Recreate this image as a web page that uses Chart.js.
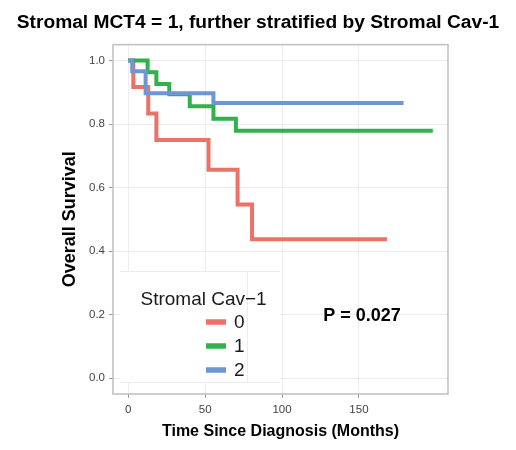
<!DOCTYPE html>
<html><head><meta charset="utf-8">
<script src="https://cdn.jsdelivr.net/npm/chart.js@4.4.1/dist/chart.umd.min.js"></script>
<style>html,body{margin:0;padding:0;background:#fff;}canvas{display:block;}</style>
</head><body>
<canvas id="c" width="516" height="450"></canvas>
<script>
// ---- data ----
const chartTitle = 'Stromal MCT4 = 1, further stratified by Stromal Cav-1';
const xTitle = 'Time Since Diagnosis (Months)';
const yTitle = 'Overall Survival';
const legendTitle = 'Stromal Cav\u22121';
const groupLabels = ['0', '1', '2'];
const groupColors = ['#EC7166', '#31B04B', '#6E95D4'];
const times0 = [0, 3.3, 13, 18.3, 52.2, 71.1, 80.5, 168.3];
const surv0  = [1, 0.917, 0.833, 0.75, 0.656, 0.547, 0.437, 0.437];
const times1 = [0, 12.6, 18.3, 26.7, 40, 55.4, 70, 198];
const surv1  = [1, 0.963, 0.926, 0.894, 0.856, 0.817, 0.779, 0.779];
const times2 = [0, 2.6, 11.3, 55.4, 179];
const surv2  = [1, 0.966, 0.897, 0.866, 0.866];
const xTicks = [0, 50, 100, 150];
const yTicks = [0, 0.2, 0.4, 0.6, 0.8, 1.0];
const pText = 'P = 0.027';
const pPos = [152, 0.195];

const FAM = "'Liberation Sans', Arial, Helvetica, sans-serif";
Chart.defaults.font.family = FAM;

function pts(t, s) { return t.map((v, i) => ({x: v, y: s[i]})); }
const series = [[times0, surv0], [times1, surv1], [times2, surv2]];

const datasets = series.map((s, i) => ({
  label: groupLabels[i],
  data: pts(s[0], s[1]),
  borderColor: groupColors[i],
  backgroundColor: groupColors[i],
  borderWidth: 4,
  stepped: 'before',
  pointRadius: 0,
  fill: false,
  order: 2 - i,
  borderCapStyle: 'butt',
  borderJoinStyle: 'miter'
}));

const overlay = {
  id: 'overlay',
  afterDatasetsDraw(chart) {
    const ctx = chart.ctx;
    const xs = chart.scales.x, ys = chart.scales.y;
    ctx.save();
    // legend box
    const lx0 = 120, lx1 = 280, ly0 = 271, ly1 = 383;
    ctx.fillStyle = '#ffffff';
    ctx.fillRect(lx0, ly0, lx1 - lx0, ly1 - ly0);
    ctx.strokeStyle = '#ececec';
    ctx.lineWidth = 1;
    ctx.beginPath();
    ctx.moveTo(lx0, ly0 + 0.5); ctx.lineTo(lx1, ly0 + 0.5);
    ctx.moveTo(lx0, ly1 - 0.5); ctx.lineTo(lx1, ly1 - 0.5);
    ctx.moveTo(247.5, ly0); ctx.lineTo(247.5, ly1);
    ctx.stroke();
    // legend title
    ctx.fillStyle = '#1a1a1a';
    ctx.font = "19px " + FAM;
    ctx.textAlign = 'left';
    ctx.textBaseline = 'alphabetic';
    ctx.fillText(legendTitle, 140.5, 305);
    // legend keys
    const keyY = [322, 346, 370];
    chart.data.datasets.forEach((d, i) => {
      ctx.strokeStyle = d.borderColor;
      ctx.lineWidth = 5.5;
      ctx.lineCap = 'butt';
      ctx.beginPath();
      ctx.moveTo(206, keyY[i]); ctx.lineTo(226, keyY[i]);
      ctx.stroke();
      ctx.fillStyle = '#1a1a1a';
      ctx.font = "19px " + FAM;
      ctx.textBaseline = 'middle';
      ctx.fillText(d.label, 234, keyY[i] + 1);
    });
    // p-value
    ctx.font = "bold 18px " + FAM;
    ctx.fillStyle = '#000';
    ctx.textAlign = 'center';
    ctx.textBaseline = 'middle';
    ctx.fillText(pText, xs.getPixelForValue(pPos[0]), ys.getPixelForValue(pPos[1]));
    ctx.restore();
  },
  afterDraw(chart) {
    const ctx = chart.ctx, a = chart.chartArea;
    ctx.save();
    ctx.strokeStyle = '#c2c2c2';
    ctx.lineWidth = 1.6;
    ctx.strokeRect(a.left, a.top, a.right - a.left, a.bottom - a.top);
    ctx.restore();
  }
};

new Chart(document.getElementById('c'), {
  type: 'line',
  data: { datasets },
  options: {
    responsive: false,
    animation: false,
    devicePixelRatio: 1,
    layout: { padding: 0 },
    plugins: {
      legend: { display: false },
      tooltip: { enabled: false },
      title: {
        display: true,
        text: chartTitle,
        color: '#000',
        font: { size: 19.2, weight: 'bold', family: FAM, lineHeight: 1.2 },
        padding: { top: 10.8, bottom: 10.8 }
      }
    },
    scales: {
      x: {
        type: 'linear',
        min: -9.9, max: 207.9,
        afterBuildTicks(s) { s.ticks = xTicks.map(v => ({value: v})); },
        afterFit(s) { s.height = 450 - 394; },
        ticks: { color: '#444', font: { size: 11.5, family: FAM }, padding: 5, maxRotation: 0,
                 callback: v => String(v) },
        grid: { color: '#ededed', lineWidth: 1, tickColor: '#9a9a9a', tickLength: 4 },
        border: { display: false },
        title: { display: true, text: xTitle, color: '#000',
                 font: { size: 16, weight: 'bold', family: FAM, lineHeight: 1.2 },
                 padding: { top: 0, bottom: 8.7 } }
      },
      y: {
        type: 'linear',
        min: -0.05, max: 1.05,
        afterBuildTicks(s) { s.ticks = yTicks.map(v => ({value: v})); },
        afterFit(s) { s.width = 113; },
        ticks: { color: '#444', font: { size: 11.5, family: FAM }, padding: 4,
                 callback: v => Number(v).toFixed(1) },
        grid: { color: '#ededed', lineWidth: 1, tickColor: '#9a9a9a', tickLength: 4 },
        border: { display: false },
        title: { display: true, text: yTitle, color: '#000',
                 font: { size: 18, weight: 'bold', family: FAM, lineHeight: 1.2 },
                 padding: { top: 59.5, bottom: 0 } }
      },
      y2: {
        type: 'linear',
        position: 'right',
        display: true,
        afterFit(s) { s.width = 516 - 448; },
        ticks: { display: false },
        grid: { display: false },
        border: { display: false },
        title: { display: false }
      }
    }
  },
  plugins: [overlay]
});
</script>
</body></html>
